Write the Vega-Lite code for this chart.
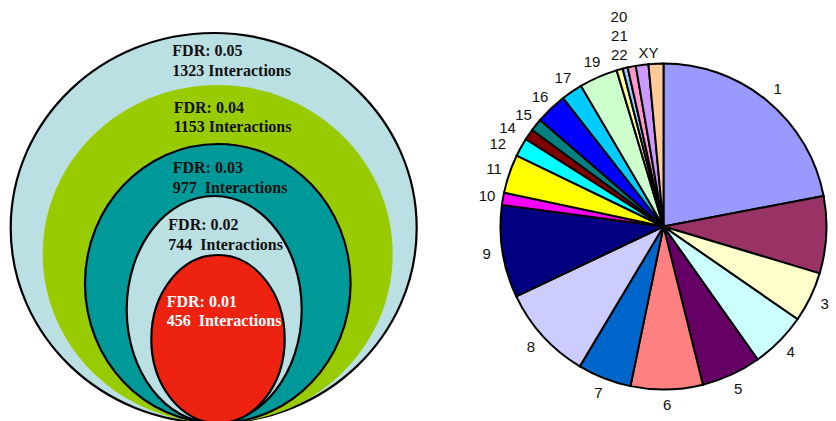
{
  "$schema": "https://vega.github.io/schema/vega-lite/v6.json",
  "padding": 0,
  "spacing": 0,
  "background": "white",
  "config": {"view": {"stroke": null}},
  "hconcat": [
    {
      "width": 420,
      "height": 453,
      "data": {"values": [
        {"fdr": 0.05, "interactions": 1323, "label": "FDR: 0.05\n1323 Interactions"},
        {"fdr": 0.04, "interactions": 1153, "label": "FDR: 0.04\n1153 Interactions"},
        {"fdr": 0.03, "interactions": 977, "label": "FDR: 0.03\n977\u00a0 Interactions"},
        {"fdr": 0.02, "interactions": 744, "label": "FDR: 0.02\n744\u00a0 Interactions"},
        {"fdr": 0.01, "interactions": 456, "label": "FDR: 0.01\n456\u00a0 Interactions"}
      ]},
      "layer": [
        {
          "mark": {"type": "point", "filled": true, "size": 176400, "stroke": "black", "opacity": 1},
          "encoding": {
            "shape": {"field": "fdr", "type": "nominal", "legend": null, "scale": {
              "domain": [0.05, 0.04, 0.03, 0.02, 0.01],
              "range": [
                "M 0.9843 0.0071 C 0.9843 0.52 0.5515 0.9357 0.0176 0.9357 C -0.5163 0.9357 -0.9491 0.52 -0.9491 0.0071 C -0.9491 -0.5058 -0.5163 -0.9215 0.0176 -0.9215 C 0.5515 -0.9215 0.9843 -0.5058 0.9843 0.0071 Z",
                "M 0.87 0.131 C 0.87 0.5755 0.4969 0.9358 0.0367 0.9358 C -0.4235 0.9358 -0.7966 0.5755 -0.7966 0.131 C -0.7966 -0.3135 -0.4235 -0.6738 0.0367 -0.6738 C 0.4969 -0.6738 0.87 -0.3135 0.87 0.131 Z",
                "M 0.6695 0.2714 C 0.6695 0.6383 0.3864 0.9357 0.0371 0.9357 C -0.3122 0.9357 -0.5953 0.6383 -0.5953 0.2714 C -0.5953 -0.0955 -0.3122 -0.3929 0.0371 -0.3929 C 0.3864 -0.3929 0.6695 -0.0955 0.6695 0.2714 Z",
                "M 0.4367 0.3952 C 0.4367 0.6937 0.2501 0.9357 0.02 0.9357 C -0.2101 0.9357 -0.3967 0.6937 -0.3967 0.3952 C -0.3967 0.0967 -0.2101 -0.1453 0.02 -0.1453 C 0.2501 -0.1453 0.4367 0.0967 0.4367 0.3952 Z",
                "M 0.3557 0.5357 C 0.3557 0.7566 0.2135 0.9357 0.0381 0.9357 C -0.1373 0.9357 -0.2795 0.7566 -0.2795 0.5357 C -0.2795 0.3148 -0.1373 0.1357 0.0381 0.1357 C 0.2135 0.1357 0.3557 0.3148 0.3557 0.5357 Z"
              ]
            }},
            "fill": {"field": "fdr", "type": "nominal", "legend": null, "scale": {
              "domain": [0.05, 0.04, 0.03, 0.02, 0.01],
              "range": ["#BBE0E3", "#99CC00", "#009999", "#BBE0E3", "#EE2211"]
            }},
            "strokeWidth": {"condition": {"test": "datum.fdr == 0.04", "value": 0}, "value": 2.2}
          }
        },
        {
          "mark": {"type": "text", "align": "left", "baseline": "alphabetic", "font": "Liberation Serif", "fontSize": 16, "fontWeight": "bold", "lineBreak": "\n", "lineHeight": 19.5},
          "encoding": {
            "x": {"field": "interactions", "type": "quantitative", "axis": null, "scale": {"domain": [456, 744, 977, 1153, 1323], "range": [166.7, 168.3, 172.7, 173.7, 172.3], "nice": false, "zero": false}},
            "y": {"field": "interactions", "type": "quantitative", "axis": null, "scale": {"domain": [456, 744, 977, 1153, 1323], "range": [306.5, 230, 173.2, 112.5, 56], "nice": false, "zero": false}},
            "text": {"field": "label"},
            "color": {"condition": {"test": "datum.fdr == 0.01", "value": "white"}, "value": "#111111"}
          }
        }
      ]
    },
    {
      "width": 483,
      "height": 453,
      "data": {"values": [
        {"chr": "1", "n": 1, "value": 79.2},
        {"chr": "2", "n": 2, "value": 27.5},
        {"chr": "3", "n": 3, "value": 18.0},
        {"chr": "4", "n": 4, "value": 20.0},
        {"chr": "5", "n": 5, "value": 21.3},
        {"chr": "6", "n": 6, "value": 25.7},
        {"chr": "7", "n": 7, "value": 19.2},
        {"chr": "8", "n": 8, "value": 33.7},
        {"chr": "9", "n": 9, "value": 33.0},
        {"chr": "10", "n": 10, "value": 4.4},
        {"chr": "11", "n": 11, "value": 13.8},
        {"chr": "12", "n": 12, "value": 6.6},
        {"chr": "14", "n": 14, "value": 3.9},
        {"chr": "15", "n": 15, "value": 4.5},
        {"chr": "16", "n": 16, "value": 11.2},
        {"chr": "17", "n": 17, "value": 7.6},
        {"chr": "19", "n": 19, "value": 13.7},
        {"chr": "20", "n": 20, "value": 2.2},
        {"chr": "21", "n": 21, "value": 1.8},
        {"chr": "22", "n": 22, "value": 2.9},
        {"chr": "X", "n": 23, "value": 4.5},
        {"chr": "Y", "n": 24, "value": 5.3}
      ]},
      "encoding": {
        "theta": {"field": "value", "type": "quantitative", "stack": true},
        "order": {"field": "n", "type": "quantitative"}
      },
      "layer": [
        {
          "mark": {"type": "arc", "outerRadius": 163, "stroke": "black", "strokeWidth": 2},
          "encoding": {
            "color": {"field": "chr", "type": "nominal", "legend": null, "scale": {
              "domain": ["1","2","3","4","5","6","7","8","9","10","11","12","14","15","16","17","19","20","21","22","X","Y"],
              "range": ["#9999FF","#993366","#FFFFCC","#CCFFFF","#660066","#FF8080","#0066CC","#CCCCFF","#000080","#FF00FF","#FFFF00","#00FFFF","#800000","#008080","#0000FF","#00CCFF","#CCFFCC","#FFFF99","#99CCFF","#FF99CC","#CC99FF","#FFCC99"]
            }}
          }
        },
        {
          "mark": {"type": "text", "radius": 179, "font": "Liberation Sans", "fontSize": 15, "align": "center", "baseline": "middle", "color": "#111111"},
          "encoding": {"text": {"condition": {"test": "datum.n <= 19 && datum.n != 12 && datum.n != 14", "field": "chr"}, "value": ""}}
        },
        {
          "mark": {"type": "text", "radius": 184, "dx": -5, "dy": 7, "font": "Liberation Sans", "fontSize": 15, "align": "center", "baseline": "middle", "color": "#111111"},
          "encoding": {"text": {"condition": {"test": "datum.chr === '12'", "field": "chr"}, "value": ""}}
        },
        {
          "mark": {"type": "text", "radius": 184, "dx": -4, "dy": 5, "font": "Liberation Sans", "fontSize": 15, "align": "center", "baseline": "middle", "color": "#111111"},
          "encoding": {"text": {"condition": {"test": "datum.chr === '14'", "field": "chr"}, "value": ""}}
        },
        {
          "mark": {"type": "text", "radius": 217.8, "dx": 14, "font": "Liberation Sans", "fontSize": 15, "align": "center", "baseline": "middle", "color": "#111111"},
          "encoding": {"text": {"condition": {"test": "datum.chr === '20'", "field": "chr"}, "value": ""}}
        },
        {
          "mark": {"type": "text", "radius": 196, "dx": 2, "font": "Liberation Sans", "fontSize": 15, "align": "center", "baseline": "middle", "color": "#111111"},
          "encoding": {"text": {"condition": {"test": "datum.chr === '21'", "field": "chr"}, "value": ""}}
        },
        {
          "mark": {"type": "text", "radius": 175, "dx": -10, "font": "Liberation Sans", "fontSize": 15, "align": "center", "baseline": "middle", "color": "#111111"},
          "encoding": {"text": {"condition": {"test": "datum.chr === '22'", "field": "chr"}, "value": ""}}
        },
        {
          "mark": {"type": "text", "radius": 175, "dx": 8, "font": "Liberation Sans", "fontSize": 15, "align": "center", "baseline": "middle", "color": "#111111"},
          "encoding": {"text": {"condition": {"test": "datum.chr === 'X'", "value": "XY"}, "value": ""}}
        }
      ]
    }
  ]
}
